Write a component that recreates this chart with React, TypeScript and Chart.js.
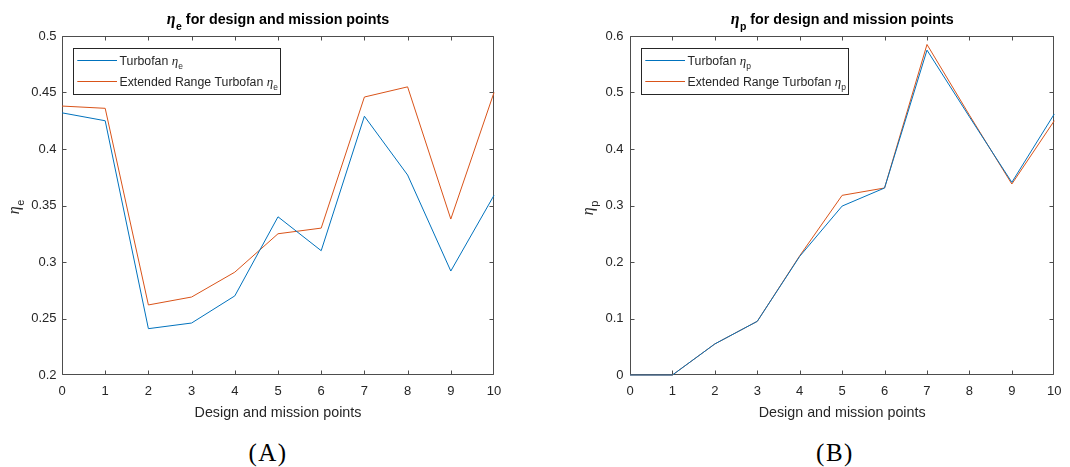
import React, { useEffect, useRef } from "react";
import { Chart, registerables } from "chart.js";

Chart.register(...registerables);

// ---------- data ----------
const designPoints = [0, 1, 2, 3, 4, 5, 6, 7, 8, 9, 10];
const xTickLabels = ["0", "1", "2", "3", "4", "5", "6", "7", "8", "9", "10"];

const turbofanEtaE = [0.432, 0.425, 0.241, 0.246, 0.270, 0.340, 0.310, 0.429, 0.377, 0.292, 0.359];
const extendedEtaE = [0.438, 0.436, 0.262, 0.269, 0.291, 0.325, 0.330, 0.446, 0.455, 0.338, 0.450];

const turbofanEtaP = [0.0, 0.0, 0.055, 0.095, 0.210, 0.299, 0.331, 0.575, 0.457, 0.341, 0.462];
const extendedEtaP = [0.0, 0.0, 0.055, 0.095, 0.211, 0.318, 0.331, 0.585, 0.460, 0.338, 0.450];

const yTicksE = [0.2, 0.25, 0.3, 0.35, 0.4, 0.45, 0.5];
const yTickLabelsE = ["0.2", "0.25", "0.3", "0.35", "0.4", "0.45", "0.5"];
const yTicksP = [0, 0.1, 0.2, 0.3, 0.4, 0.5, 0.6];
const yTickLabelsP = ["0", "0.1", "0.2", "0.3", "0.4", "0.5", "0.6"];

const seriesNames = ["Turbofan", "Extended Range Turbofan"];
const titleText = " for design and mission points";
const xAxisTitle = "Design and mission points";
const captions = ["(A)", "(B)"];

// ---------- style ----------
const BLUE = "#0072BD";
const ORANGE = "#D95319";
const SANS = '"Liberation Sans", Arial, Helvetica, sans-serif';
const SERIF = '"Liberation Serif", "Times New Roman", serif';
const TEXT = "#262626";
const AXIS = "#4d4d4d";
const CW = 535;
const CH = 430;
const PLOT_TOP = 36;
const PLOT_BOTTOM = 375;

type Part = { t: string; font: string; dy?: number; dx?: number };

function partsWidth(ctx: CanvasRenderingContext2D, parts: Part[]) {
  let w = 0;
  for (const p of parts) {
    ctx.font = p.font;
    w += ctx.measureText(p.t).width + (p.dx || 0);
  }
  return w;
}

function drawParts(ctx: CanvasRenderingContext2D, parts: Part[], x: number, y: number, align: "left" | "center") {
  const w = partsWidth(ctx, parts);
  let cx = align === "center" ? x - w / 2 : x;
  ctx.textAlign = "left";
  for (const p of parts) {
    ctx.font = p.font;
    cx += p.dx || 0;
    ctx.fillText(p.t, cx, y + (p.dy || 0));
    cx += ctx.measureText(p.t).width;
  }
}

type Panel = {
  sub: string;
  yMin: number;
  yMax: number;
  yTicks: number[];
  yTickLabels: string[];
  s1: number[];
  s2: number[];
  canvasLeft: number;
  plotLeft: number;
  plotRight: number;
  yLabelX: number;
  yLabelY: number;
  yTickPad: number;
};

const panels: Panel[] = [
  {
    sub: "e",
    yMin: 0.2,
    yMax: 0.5,
    yTicks: yTicksE,
    yTickLabels: yTickLabelsE,
    s1: turbofanEtaE,
    s2: extendedEtaE,
    canvasLeft: 0,
    plotLeft: 62,
    plotRight: 494,
    yLabelX: 19,
    yLabelY: 207,
    yTickPad: 5.5,
  },
  {
    sub: "p",
    yMin: 0,
    yMax: 0.6,
    yTicks: yTicksP,
    yTickLabels: yTickLabelsP,
    s1: turbofanEtaP,
    s2: extendedEtaP,
    canvasLeft: 535,
    plotLeft: 95,
    plotRight: 527,
    yLabelX: 58,
    yLabelY: 208,
    yTickPad: 6.5,
  },
];

function makeDecor(p: Panel) {
  return {
    id: "matlabDecor",
    beforeDatasetsDraw(chart: any) {
      const ctx: CanvasRenderingContext2D = chart.ctx;
      const { left, right, top, bottom } = chart.chartArea;
      const xs = chart.scales.x;
      const ys = chart.scales.y;
      const L = Math.round(left) + 0.5;
      const R = Math.round(right) - 0.5;
      const T = Math.round(top) + 0.5;
      const B = Math.round(bottom) - 0.5;
      const TL = 4;
      ctx.save();
      ctx.strokeStyle = AXIS;
      ctx.lineWidth = 1;
      ctx.beginPath();
      ctx.moveTo(L, T);
      ctx.lineTo(R, T);
      ctx.lineTo(R, B);
      ctx.lineTo(L, B);
      ctx.closePath();
      ctx.stroke();
      // ticks inward on all four sides
      ctx.beginPath();
      for (const t of xs.ticks) {
        let px = Math.round(xs.getPixelForValue(t.value)) + 0.5;
        px = Math.max(L, Math.min(R, px));
        ctx.moveTo(px, B);
        ctx.lineTo(px, B - TL);
        ctx.moveTo(px, T);
        ctx.lineTo(px, T + TL);
      }
      for (const t of ys.ticks) {
        let py = Math.round(ys.getPixelForValue(t.value)) + 0.5;
        py = Math.max(T, Math.min(B, py));
        ctx.moveTo(L, py);
        ctx.lineTo(L + TL, py);
        ctx.moveTo(R, py);
        ctx.lineTo(R - TL, py);
      }
      ctx.stroke();
      ctx.restore();
    },
    afterDraw(chart: any) {
      const ctx: CanvasRenderingContext2D = chart.ctx;
      const { left, right, top } = chart.chartArea;
      ctx.save();
      // legend
      const lx = Math.round(left + 10.6) + 0.5;
      const ly = Math.round(top + 12.3) + 0.5;
      const lw = 207;
      const lh = 46;
      ctx.fillStyle = "#ffffff";
      ctx.fillRect(lx, ly, lw, lh);
      ctx.strokeStyle = "#262626";
      ctx.lineWidth = 1;
      ctx.strokeRect(lx, ly, lw, lh);
      const rowsY = [ly + 11.8, ly + 32.6];
      const colors = [BLUE, ORANGE];
      ctx.textBaseline = "alphabetic";
      for (let i = 0; i < 2; i++) {
        ctx.strokeStyle = colors[i];
        ctx.lineWidth = 1;
        ctx.beginPath();
        ctx.moveTo(lx + 3.8, Math.round(rowsY[i]) + 0.5);
        ctx.lineTo(lx + 43.5, Math.round(rowsY[i]) + 0.5);
        ctx.stroke();
        ctx.fillStyle = TEXT;
        drawParts(
          ctx,
          [
            { t: seriesNames[i] + " ", font: `12.3px ${SANS}` },
            { t: "\u03B7", font: `italic 13px ${SERIF}` },
            { t: p.sub, font: `8.5px ${SANS}`, dy: 4, dx: 0.2 },
          ],
          lx + 46,
          rowsY[i] + 4.5,
          "left"
        );
      }

      // title
      ctx.fillStyle = "#000000";
      const cx = (left + right) / 2;
      drawParts(
        ctx,
        [
          { t: "\u03B7", font: `italic bold 16px ${SERIF}` },
          { t: p.sub, font: `bold 10.5px ${SANS}`, dy: 5.5, dx: 0.5 },
          { t: titleText, font: `bold 14.3px ${SANS}` },
        ],
        cx,
        24,
        "center"
      );

      // x axis title
      ctx.fillStyle = TEXT;
      ctx.font = `14.3px ${SANS}`;
      ctx.textAlign = "center";
      ctx.textBaseline = "middle";
      ctx.fillText(xAxisTitle, cx, 413.5);

      // y axis title (rotated)
      ctx.translate(p.yLabelX, p.yLabelY);
      ctx.rotate(-Math.PI / 2);
      ctx.textBaseline = "alphabetic";
      drawParts(
        ctx,
        [
          { t: "\u03B7", font: `italic 16px ${SERIF}` },
          { t: p.sub, font: `11px ${SANS}`, dy: 4.5, dx: 0.5 },
        ],
        0,
        0,
        "center"
      );
      ctx.restore();
    },
  };
}

function ChartPanel({ panel }: { panel: Panel }) {
  const ref = useRef<HTMLCanvasElement | null>(null);
  useEffect(() => {
    if (!ref.current) return;
    const p = panel;
    const chart = new Chart(ref.current, {
      type: "line",
      data: {
        datasets: [
          {
            label: seriesNames[0] + " \u03B7" + p.sub,
            data: designPoints.map((x, i) => ({ x, y: p.s1[i] })),
            borderColor: BLUE,
            backgroundColor: BLUE,
            borderWidth: 1,
            pointRadius: 0,
            tension: 0,
            fill: false,
            clip: false,
          },
          {
            label: seriesNames[1] + " \u03B7" + p.sub,
            data: designPoints.map((x, i) => ({ x, y: p.s2[i] })),
            borderColor: ORANGE,
            backgroundColor: ORANGE,
            borderWidth: 1,
            pointRadius: 0,
            tension: 0,
            fill: false,
            clip: false,
          },
        ],
      },
      options: {
        responsive: false,
        animation: false,
        devicePixelRatio: 1,
        events: [],
        layout: { padding: { left: 0, right: CW - p.plotRight, top: PLOT_TOP, bottom: 0 } },
        plugins: {
          legend: { display: false },
          title: { display: false },
          tooltip: { enabled: false },
        },
        scales: {
          x: {
            type: "linear",
            min: designPoints[0],
            max: designPoints[designPoints.length - 1],
            grid: { display: false, drawTicks: false },
            border: { display: false },
            afterFit: (s: any) => {
              s.height = CH - PLOT_BOTTOM;
            },
            afterBuildTicks: (s: any) => {
              s.ticks = designPoints.map((v) => ({ value: v }));
            },
            ticks: {
              padding: 8.5,
              maxRotation: 0,
              autoSkip: false,
              color: TEXT,
              font: { family: SANS, size: 13 },
              callback: (_v: any, i: number) => xTickLabels[i],
            },
          },
          y: {
            type: "linear",
            min: p.yMin,
            max: p.yMax,
            grid: { display: false, drawTicks: false },
            border: { display: false },
            afterFit: (s: any) => {
              s.width = p.plotLeft;
            },
            afterBuildTicks: (s: any) => {
              s.ticks = p.yTicks.map((v) => ({ value: v }));
            },
            ticks: {
              padding: p.yTickPad,
              autoSkip: false,
              color: TEXT,
              font: { family: SANS, size: 13 },
              callback: (_v: any, i: number) => p.yTickLabels[i],
            },
          },
        },
      } as any,
      plugins: [makeDecor(p)],
    });
    return () => chart.destroy();
  }, [panel]);
  return (
    <canvas
      ref={ref}
      width={CW}
      height={CH}
      style={{ position: "absolute", left: panel.canvasLeft, top: 0, width: CW, height: CH }}
    />
  );
}

export default function App() {
  const captionCenters = [268, 835];
  return (
    <div
      style={{
        position: "fixed",
        left: 0,
        top: 0,
        width: 1070,
        height: 467,
        background: "#ffffff",
        overflow: "hidden",
      }}
    >
      {panels.map((p, i) => (
        <ChartPanel key={i} panel={p} />
      ))}
      {captions.map((c, i) => (
        <div
          key={c}
          style={{
            position: "absolute",
            left: captionCenters[i] - 60,
            width: 120,
            top: 440,
            textAlign: "center",
            fontFamily: SERIF,
            fontSize: 25,
            lineHeight: "25px",
            letterSpacing: 1.5,
            color: "#000",
          }}
        >
          {c}
        </div>
      ))}
    </div>
  );
}
